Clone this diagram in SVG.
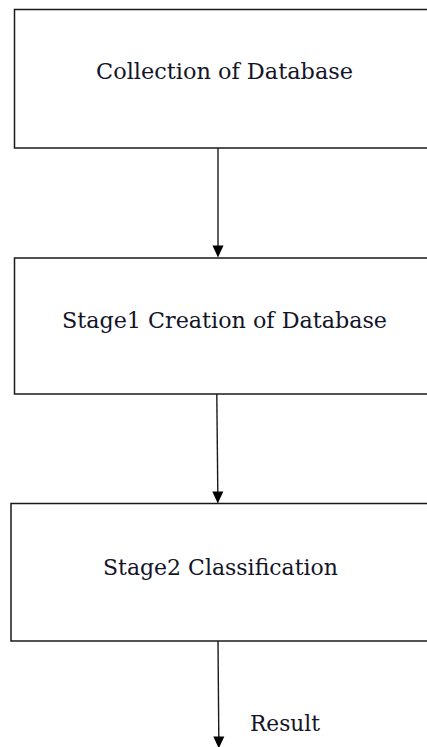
<svg xmlns="http://www.w3.org/2000/svg" width="427" height="747" viewBox="0 0 427 747">
<style>
.box{fill:#fff;stroke:#1a1a1a;stroke-width:1.5}
.lbl{font-family:"DejaVu Serif","Liberation Serif",serif;font-size:21.5px;fill:#141428}
.con{stroke:#1a1a1a;stroke-width:1.4;fill:none}
.head{fill:#000}
</style>
<rect width="427" height="747" fill="#fff"/>
<g id="node-collection">
<rect class="box" x="14.5" y="9.5" width="430" height="138.5"/>
<text class="lbl" x="96" y="79" textLength="257" lengthAdjust="spacingAndGlyphs">Collection of Database</text>
</g>
<g id="node-stage1">
<rect class="box" x="14.5" y="258" width="430" height="136"/>
<text class="lbl" x="62" y="328" textLength="325" lengthAdjust="spacingAndGlyphs">Stage1 Creation of Database</text>
</g>
<g id="node-stage2">
<rect class="box" x="11" y="503.5" width="430" height="137.5"/>
<text class="lbl" x="103" y="575" textLength="235" lengthAdjust="spacingAndGlyphs">Stage2 Classification</text>
</g>
<g id="connectors">
<line class="con" x1="218" y1="148" x2="218" y2="247"/>
<polygon class="head" points="212.5,245.5 223.5,245.5 218,257.5"/>
<line class="con" x1="216.8" y1="394" x2="217.8" y2="493"/>
<polygon class="head" points="212.3,491.5 223.3,491.5 217.8,503.5"/>
<line class="con" x1="218" y1="641" x2="218.8" y2="738"/>
<polygon class="head" points="213.3,736.5 224.3,736.5 218.8,748.5"/>
<text class="lbl" x="250" y="731" textLength="70" lengthAdjust="spacingAndGlyphs">Result</text>
</g>
</svg>
